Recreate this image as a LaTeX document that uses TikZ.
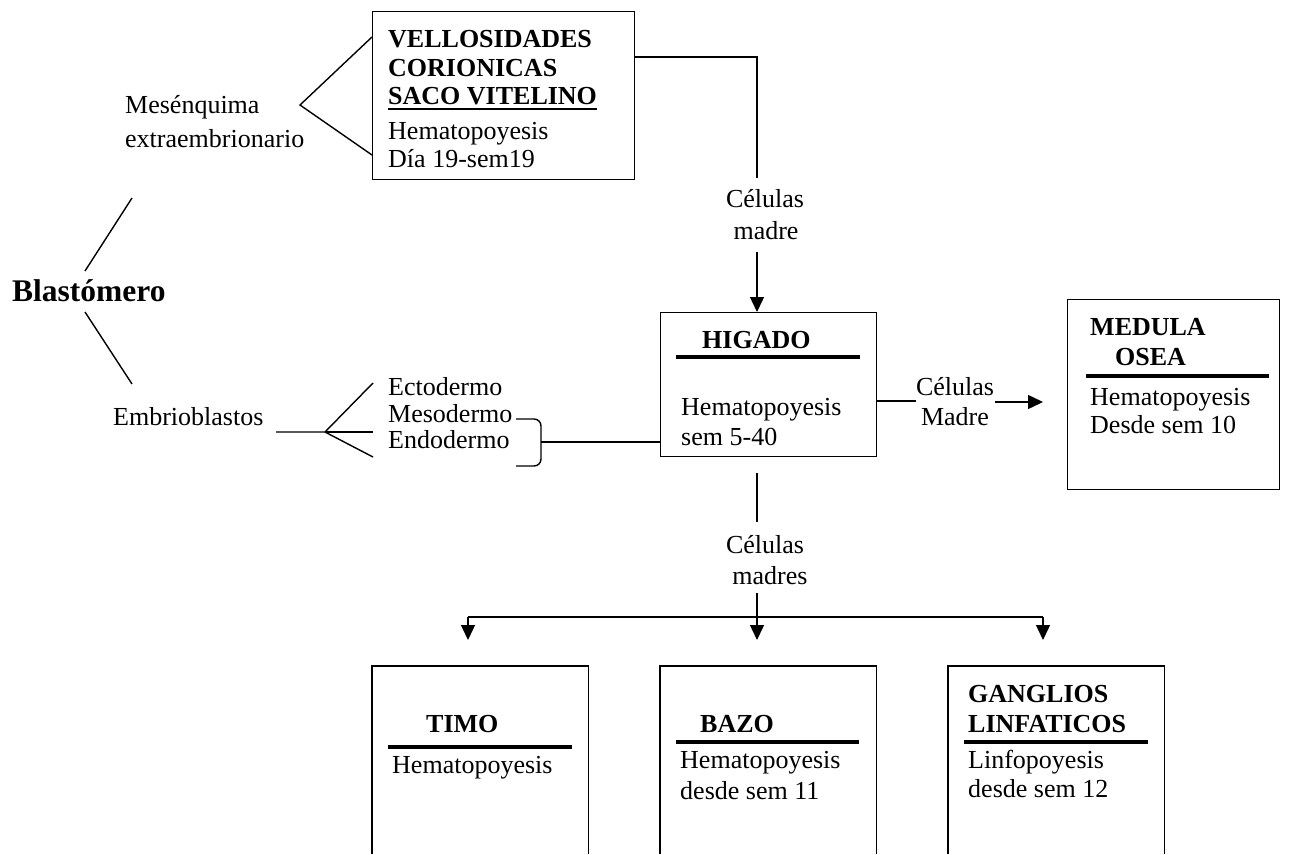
\documentclass[tikz,border=0pt]{standalone}
\usepackage{fontspec}
\setmainfont{Liberation Serif}
\usetikzlibrary{arrows.meta}
\begin{document}
\begin{tikzpicture}[x=1pt,y=-1pt,
  lbl/.style={inner sep=0pt, anchor=base west, font=\fontsize{26}{30}\selectfont},
  blbl/.style={inner sep=0pt, anchor=base west, font=\fontsize{26}{30}\selectfont\bfseries},
  clbl/.style={inner sep=0pt, anchor=base, font=\fontsize{26}{30}\selectfont},
  boxst/.style={draw, line width=1.4pt, inner sep=0pt, anchor=north west},
  openbox/.style={inner sep=0pt, anchor=north west},
  conn/.style={line width=1.4pt},
  arr/.style={conn, -{Triangle[length=15pt,width=14pt]}},
  hbar/.style={line width=4pt},
]
\useasboundingbox (0,0) rectangle (1292,854);

% ---------- top box ----------
\node[boxst, minimum width=262pt, minimum height=168pt] (saco) at (372,11) {};
\node[blbl] (s1) at (388,47) {VELLOSIDADES};
\node[blbl] (s2) at (388,76) {CORIONICAS};
\node[blbl] (s3) at (388,104) {SACO VITELINO};
\draw[line width=1.8pt] ([yshift=-5pt]s3.base west) -- ([yshift=-5pt]s3.base east);
\node[lbl] (s4) at (388,139) {Hematopoyesis};
\node[lbl] (s5) at (388,167) {Día 19-sem19};

% ---------- mesenquima ----------
\node[lbl] (mes1) at (125,113) {Mesénquima};
\node[lbl] (mes2) at (125,147) {extraembrionario};
\coordinate (apex) at (300,105);
\coordinate (sacoA) at (372,37);
\coordinate (sacoB) at (372,155);
\draw[conn] (sacoA) -- (apex) -- (sacoB);

% ---------- blastomero ----------
\node[inner sep=0pt, anchor=base west, font=\fontsize{31.5}{36}\selectfont\bfseries] (bla) at (12,301) {Blastómero};
\coordinate (bu1) at (132,198);
\coordinate (bu2) at (85,271);
\coordinate (bd1) at (85,312);
\coordinate (bd2) at (132,384);
\draw[conn] (bu1) -- (bu2);
\draw[conn] (bd1) -- (bd2);

% ---------- embrioblastos ----------
\node[lbl] (emb) at (113,425) {Embrioblastos};
\coordinate (f0) at (276,432);
\coordinate (fk) at (325,432);
\coordinate (fe) at (373,383);
\coordinate (fm) at (373,432);
\coordinate (fn) at (373,457);
\draw[conn] (f0) -- (fk) -- (fe);
\draw[conn] (fk) -- (fm);
\draw[conn] (fk) -- (fn);
\node[lbl] (ecto) at (388,395) {Ectodermo};
\node[lbl] (meso) at (388,422) {Mesodermo};
\node[lbl] (endo) at (388,448) {Endodermo};
\coordinate (br1) at (516,419);
\coordinate (br2) at (541,419);
\coordinate (br3) at (541,466);
\coordinate (br4) at (516,466);
\coordinate (brm) at (541,442);
\draw[conn, rounded corners=7pt] (br1) -- (br2) -- (br3) -- (br4);

% ---------- higado ----------
\node[boxst, minimum width=216pt, minimum height=144pt] (hig) at (660,312) {};
\node[blbl] (h1) at (702,348) {HIGADO};
\draw[hbar] (676,357) -- (860,357);
\node[lbl] (h2) at (681,415) {Hematopoyesis};
\node[lbl] (h3) at (681,445) {sem 5-40};
\draw[conn] (brm) -- (hig.west |- brm);

% ---------- celulas madre (top) ----------
\coordinate (tc1) at (757,57);
\coordinate (tc2) at (757,178);
\coordinate (tc3) at (757,252);
\draw[conn] (saco.east |- tc1) -- (tc1) -- (tc2);
\node[clbl] (cm1) at (765,207) {Células};
\node[clbl] (cm2) at (766,239) {madre};
\draw[arr] (tc3) -- (hig.north -| tc3);

% ---------- medula osea ----------
\node[boxst, minimum width=212pt, minimum height=190pt] (med) at (1067,299) {};
\node[blbl] (m1) at (1090,335) {MEDULA};
\node[blbl] (m2) at (1115,365) {OSEA};
\draw[hbar] (1086,376) -- (1269,376);
\node[lbl] (m3) at (1090,405) {Hematopoyesis};
\node[lbl] (m4) at (1090,433) {Desde sem 10};

% ---------- right connector ----------
\coordinate (rc1) at (916,401);
\coordinate (rc2) at (995,402);
\coordinate (rc3) at (1043,402);
\draw[conn] (hig.east |- rc1) -- (rc1);
\node[clbl] (cr1) at (955,395) {Células};
\node[clbl] (cr2) at (955,425) {Madre};
\draw[arr] (rc2) -- (rc3);

% ---------- lower connector ----------
\coordinate (lc1) at (757,473);
\coordinate (lc2) at (757,522);
\coordinate (lc3) at (757,593);
\coordinate (lc4) at (757,617);
\coordinate (lcl) at (468,617);
\coordinate (lcr) at (1043,617);
\draw[conn] (lc1) -- (lc2);
\node[clbl] (cb1) at (765,553) {Células};
\node[clbl] (cb2) at (770,584) {madres};
\draw[conn] (lc3) -- (lc4);
\draw[conn] (lcl) -- (lcr);

% ---------- bottom boxes ----------
\node[openbox, minimum width=216pt, minimum height=188pt] (timo) at (372,666) {};
\node[openbox, minimum width=216pt, minimum height=188pt] (bazo) at (660,666) {};
\node[openbox, minimum width=216pt, minimum height=188pt] (gang) at (948,666) {};
\draw[conn] (timo.south west) |- (timo.north east) -- (timo.south east);
\draw[conn] (bazo.south west) |- (bazo.north east) -- (bazo.south east);
\draw[conn] (gang.south west) |- (gang.north east) -- (gang.south east);

\draw[arr] (lcl) -- ([yshift=26pt]timo.north -| lcl);
\draw[arr] (lc4) -- ([yshift=26pt]bazo.north -| lc4);
\draw[arr] (lcr) -- ([yshift=26pt]gang.north -| lcr);

\node[blbl] (t1) at (426,732) {TIMO};
\draw[hbar] (388,747) -- (572,747);
\node[lbl] (t2) at (392,773) {Hematopoyesis};

\node[blbl] (b1) at (700,732) {BAZO};
\draw[hbar] (676,742) -- (859,742);
\node[lbl] (b2) at (680,768) {Hematopoyesis};
\node[lbl] (b3) at (680,799) {desde sem 11};

\node[blbl] (g1) at (968,702) {GANGLIOS};
\node[blbl] (g2) at (968,732) {LINFATICOS};
\draw[hbar] (964,742) -- (1148,742);
\node[lbl] (g3) at (968,768) {Linfopoyesis};
\node[lbl] (g4) at (968,797) {desde sem 12};
\end{tikzpicture}
\end{document}
